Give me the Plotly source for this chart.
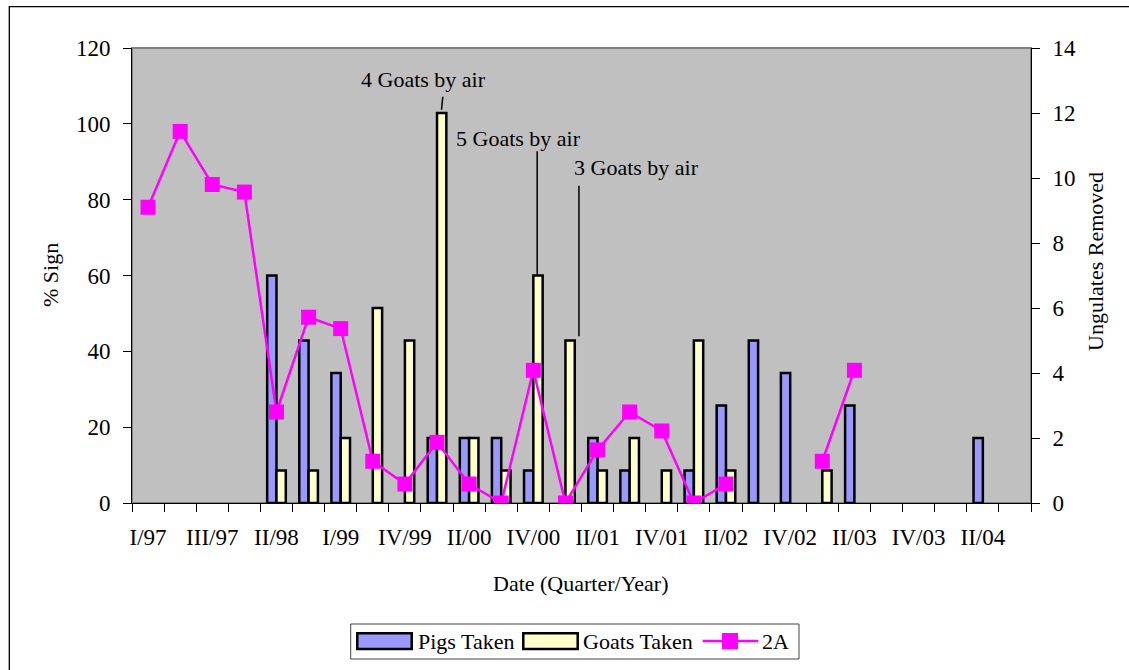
import plotly.graph_objects as go

# Survey quarters (only every other one is labelled on the axis)
quarters = ["I/97", "II/97", "III/97", "IV/97", "II/98", "III/98", "I/99", "III/99",
            "IV/99", "I/00", "II/00", "III/00", "IV/00", "I/01", "II/01", "III/01",
            "IV/01", "I/02", "II/02", "III/02", "IV/02", "I/03", "II/03", "III/03",
            "IV/03", "I/04", "II/04", "III/04"]

# Ungulates removed per quarter (right axis)
pigs_taken = [None, None, None, None, 7, 5, 4, None, None, 2, 2, 2, 1, None,
              2, 1, None, 1, 3, 5, 4, None, 3, None, None, None, 2, None]
goats_taken = [None, None, None, None, 1, 1, 2, 6, 5, 12, 2, 1, 7, 5,
               1, 2, 1, 5, 1, None, None, 1, None, None, None, None, None, None]

# Percent of plots with sign, unit 2A (left axis)
sign_2a = [78, 98, 84, 82, 24, 49, 46, 11, 5, 16, 5, 0, 35, 0,
           14, 24, 19, 0, 5, None, None, 11, 35, None, None, None, None, None]

x_idx = list(range(len(quarters)))
label_idx = x_idx[::2]
label_text = [quarters[i] for i in label_idx]

FONT = "Liberation Serif"
W, H = 1129, 670
L, R, T, B = 132, 98, 48, 167
PW, PH = W - L - R, H - T - B


def px(x):
    return (x - L) / PW


def py(y):
    return (H - B - y) / PH


BAR_W = 0.29

fig = go.Figure()

fig.add_trace(go.Bar(
    x=x_idx, y=pigs_taken, name="Pigs Taken", yaxis="y",
    width=BAR_W, offset=-BAR_W,
    marker=dict(color="#9999FF", line=dict(color="#000000", width=2.5)),
))
fig.add_trace(go.Bar(
    x=x_idx, y=goats_taken, name="Goats Taken", yaxis="y",
    width=BAR_W, offset=0,
    marker=dict(color="#FFFFCC", line=dict(color="#000000", width=2.5)),
))
fig.add_trace(go.Scatter(
    x=x_idx, y=sign_2a, name="2A", yaxis="y2", mode="lines+markers",
    connectgaps=False,
    line=dict(color="#FF00FF", width=2.5),
    marker=dict(symbol="square", size=15, color="#FF00FF"),
))

shapes = []
annotations = []

# plot-area frame
shapes.append(dict(type="rect", xref="paper", yref="paper", x0=0, x1=1, y0=0, y1=1,
                   line=dict(color="#808080", width=2), layer="below"))
# chart-area border
shapes.append(dict(type="rect", xref="paper", yref="paper",
                   x0=px(9.3), x1=px(1140), y0=py(690), y1=py(6.7),
                   line=dict(color="#000000", width=1.3)))

# callouts for aerial goat removals
callouts = [
    ("4 Goats by air", 8.58, 13.02, 9.14, goats_taken[9] + 0.1, 9.18, goats_taken[9] + 0.5),
    ("5 Goats by air", 11.53, 11.23, 12.12, goats_taken[12], 12.12, 10.82),
    ("3 Goats by air", 15.2, 10.31, 13.42, goats_taken[13] + 0.13, 13.42, 9.76),
]
for text, tx, ty, lx0, ly0, lx1, ly1 in callouts:
    annotations.append(dict(text=text, x=tx, y=ty, xref="x", yref="y",
                            showarrow=False, xanchor="center", yanchor="middle",
                            font=dict(family=FONT, size=22, color="#000000")))
    shapes.append(dict(type="line", xref="x", yref="y", x0=lx0, y0=ly0, x1=lx1, y1=ly1,
                       line=dict(color="#000000", width=1.5)))

# axis titles
annotations.append(dict(text="Date (Quarter/Year)", x=px(581), y=py(583), xref="paper", yref="paper",
                        showarrow=False, xanchor="center", yanchor="middle",
                        font=dict(family=FONT, size=22, color="#000000")))
annotations.append(dict(text="% Sign", x=px(50), y=py(275), xref="paper", yref="paper",
                        showarrow=False, xanchor="center", yanchor="middle", textangle=-90,
                        font=dict(family=FONT, size=22, color="#000000")))
annotations.append(dict(text="Ungulates Removed", x=px(1095), y=py(262), xref="paper", yref="paper",
                        showarrow=False, xanchor="center", yanchor="middle", textangle=-90,
                        font=dict(family=FONT, size=22, color="#000000")))

# legend box
shapes.append(dict(type="rect", xref="paper", yref="paper",
                   x0=px(350.7), x1=px(799), y0=py(659), y1=py(624),
                   line=dict(color="#404040", width=1), fillcolor="#FFFFFF"))
legend_items = [
    ("Pigs Taken", "#9999FF", 357.3, 411.7, 416),
    ("Goats Taken", "#FFFFCC", 523.3, 577.7, 581),
]
for name, color, sx0, sx1, tx in legend_items:
    shapes.append(dict(type="rect", xref="paper", yref="paper",
                       x0=px(sx0), x1=px(sx1), y0=py(649), y1=py(633.3),
                       line=dict(color="#000000", width=2.5), fillcolor=color))
    annotations.append(dict(text=name, x=px(tx), y=py(641), xref="paper", yref="paper",
                            showarrow=False, xanchor="left", yanchor="middle",
                            font=dict(family=FONT, size=22, color="#000000")))
shapes.append(dict(type="line", xref="paper", yref="paper",
                   x0=px(702.7), x1=px(758.3), y0=py(641), y1=py(641),
                   line=dict(color="#FF00FF", width=2.5)))
shapes.append(dict(type="rect", xref="paper", yref="paper",
                   x0=px(722), x1=px(738), y0=py(649), y1=py(633),
                   line=dict(width=0), fillcolor="#FF00FF"))
annotations.append(dict(text="2A", x=px(760), y=py(641), xref="paper", yref="paper",
                        showarrow=False, xanchor="left", yanchor="middle",
                        font=dict(family=FONT, size=22, color="#000000")))

tick_font = dict(family=FONT, size=23, color="#000000")

fig.update_layout(
    width=W, height=H,
    margin=dict(l=L, r=R, t=T, b=B, pad=0),
    paper_bgcolor="#FFFFFF",
    plot_bgcolor="#C0C0C0",
    barmode="overlay",
    showlegend=False,
    shapes=shapes,
    annotations=annotations,
    xaxis=dict(
        range=[-0.5, len(quarters) - 0.5],
        tickmode="array", tickvals=label_idx, ticktext=label_text,
        ticks="outside", ticklen=0, tickfont=tick_font,
        ticklabelstandoff=13,
        minor=dict(tickmode="linear", tick0=-0.5, dtick=1, ticks="outside",
                   ticklen=8, tickcolor="#000000", tickwidth=1, showgrid=False),
        showgrid=False, zeroline=False,
        showline=True, linecolor="#000000", linewidth=1,
    ),
    yaxis=dict(
        side="right", range=[0, 14], tickmode="linear", tick0=0, dtick=2,
        ticks="outside", ticklen=8, tickcolor="#000000", tickfont=tick_font,
        ticklabelstandoff=8,
        showgrid=False, zeroline=False,
        showline=True, linecolor="#000000", linewidth=1,
    ),
    yaxis2=dict(
        side="left", overlaying="y", range=[0, 120], tickmode="linear", tick0=0, dtick=20,
        ticks="outside", ticklen=8, tickcolor="#000000", tickfont=tick_font,
        ticklabelstandoff=8,
        showgrid=False, zeroline=False,
        showline=True, linecolor="#000000", linewidth=1,
    ),
)

fig.write_html("out.html")
